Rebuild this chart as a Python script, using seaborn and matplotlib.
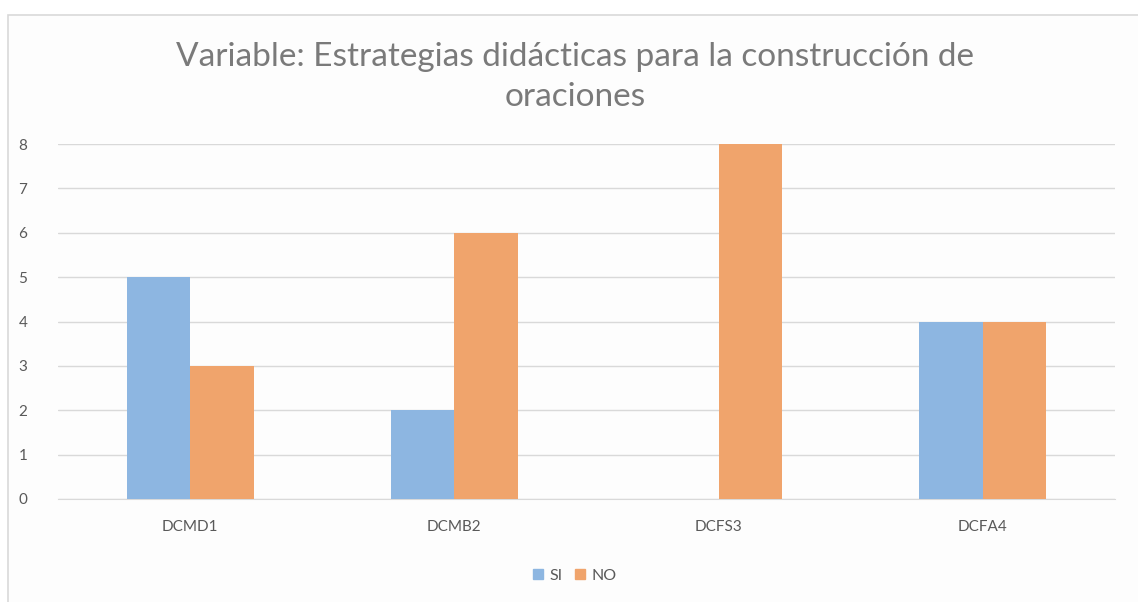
import matplotlib.pyplot as plt
import pandas as pd
import seaborn as sns
from matplotlib.patches import Rectangle

CATEGORIES = ['DCMD1', 'DCMB2', 'DCFS3', 'DCFA4']
SI = [5, 2, 0, 4]
NO = [3, 6, 8, 4]
SERIES = ['SI', 'NO']
COLORS = ['#8DB6E1', '#F0A46C']
TITLE = 'Variable: Estrategias didácticas para la construcción de\noraciones'


def main() -> None:
    sns.set_style('white')
    plt.rcParams['font.family'] = ['Lato', 'DejaVu Sans']

    df = pd.DataFrame(
        {
            'cat': CATEGORIES * 2,
            'val': SI + NO,
            'serie': ['SI'] * len(SI) + ['NO'] * len(NO),
        }
    )

    fig = plt.figure(figsize=(11.38, 6.02), dpi=100)
    fig.patch.set_facecolor('white')

    # chart border
    fig.patches.append(
        Rectangle((8 / 1138, -0.01), 1.2, 1 - 15 / 602 + 0.01,
                  transform=fig.transFigure, facecolor='#FDFDFD',
                  edgecolor='#D9D9D9', linewidth=1.2, zorder=-10)
    )

    ax = fig.add_axes([58 / 1138, 1 - 499 / 602, (1115 - 58) / 1138,
                       (499 - 144) / 602])
    ax.set_facecolor('none')

    sns.barplot(data=df, x='cat', y='val', hue='serie', hue_order=SERIES,
                palette=COLORS, width=0.48, ax=ax, saturation=1,
                legend=False, zorder=3, linewidth=0)

    ax.set_ylim(0, 8)
    ax.set_xlim(-0.5, 3.5)
    ax.set_yticks(range(0, 9))
    ax.yaxis.grid(True, color='#D9D9D9', linewidth=1)
    ax.set_axisbelow(True)
    for side in ('top', 'right', 'left'):
        ax.spines[side].set_visible(False)
    ax.spines['bottom'].set_color('#D9D9D9')
    ax.tick_params(axis='both', length=0, labelsize=11, colors='#595959',
                   pad=15)
    ax.tick_params(axis='y', pad=22)
    ax.set_xlabel('')
    ax.set_ylabel('')

    fig.text(0.505, 1 - 77 / 602, TITLE, ha='center', va='center',
             fontsize=24, color='#7A7A7A', linespacing=1.45)

    handles = [Rectangle((0, 0), 1, 1, color=c) for c in COLORS]
    fig.legend(handles, SERIES, loc='center', bbox_to_anchor=(0.505, 1 - 576 / 602),
               ncols=2, frameon=False, fontsize=11.5, handlelength=0.6,
               handleheight=0.6, handletextpad=0.4, columnspacing=0.8,
               labelcolor='#595959')

    fig.savefig('out.png', dpi=100)


if __name__ == '__main__':
    main()
